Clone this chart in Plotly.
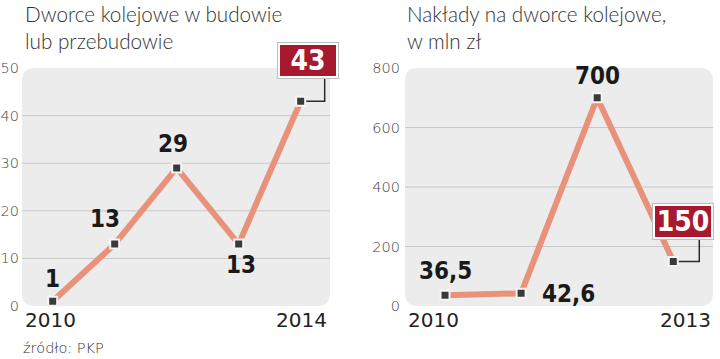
import plotly.graph_objects as go

# ---- data ----
years_left = [2010, 2011, 2012, 2013, 2014]
stations = [1, 13, 29, 13, 43]
station_labels = ["1", "13", "29", "13", "43"]

years_right = [2010, 2011, 2012, 2013]
spending = [36.5, 42.6, 700, 150]
spending_labels = ["36,5", "42,6", "700", "150"]

left_yticks = [0, 10, 20, 30, 40, 50]
right_yticks = [0, 200, 400, 600, 800]
left_xticks = [2010, 2014]
right_xticks = [2010, 2013]

title_left = "Dworce kolejowe w budowie<br>lub przebudowie"
title_right = "Nakłady na dworce kolejowe,<br>w mln zł"
source = "źródło: PKP"

# ---- style ----
W, H = 720, 359
LINE = "#E8927B"
RED = "#A6192E"
BG = "#ECECEC"
GRID = "#C9C9C9"
TXT = "#333333"
LABEL_FONT = dict(family="Liberation Sans Narrow, DejaVu Sans Condensed, Arial Narrow, sans-serif",
                  size=24, color="#1a1a1a", weight="bold")
THIN = "DejaVu Sans, sans-serif"
LATO = "Lato, Roboto, sans-serif"

def dom_y(top_px, bot_px):
    return [1 - bot_px / H, 1 - top_px / H]

fig = go.Figure()

marker = dict(symbol="square", size=9, color="#3a3a3a", line=dict(color="#f5f5f5", width=2))
fig.add_trace(go.Scatter(x=years_left, y=stations, mode="lines+markers",
                         line=dict(color=LINE, width=6), marker=marker,
                         xaxis="x", yaxis="y", hoverinfo="skip", showlegend=False,
                         cliponaxis=False))
fig.add_trace(go.Scatter(x=years_right, y=spending, mode="lines+markers",
                         line=dict(color=LINE, width=6), marker=marker,
                         xaxis="x2", yaxis="y2", hoverinfo="skip", showlegend=False,
                         cliponaxis=False))

axis_common = dict(showgrid=False, zeroline=False, showline=False, ticks="",
                   fixedrange=True, automargin=False,
                   tickfont=dict(family=THIN, size=14.5, color="#444", weight=200))

fig.update_layout(
    width=W, height=H, autosize=False, margin=dict(l=0, r=0, t=0, b=0, pad=0),
    paper_bgcolor="white", plot_bgcolor="rgba(0,0,0,0)",
    xaxis=dict(axis_common, domain=[22 / W, 330 / W], range=[2009.505, 2014.473],
               showticklabels=False, anchor="y"),
    yaxis=dict(axis_common, domain=dom_y(68, 306), range=[0, 50],
               tickvals=left_yticks, anchor="x", ticklabelstandoff=2),
    xaxis2=dict(axis_common, domain=[405 / W, 713 / W], range=[2009.474, 2013.522],
                showticklabels=False, anchor="y2"),
    yaxis2=dict(axis_common, domain=dom_y(68, 306), range=[0, 800],
                tickvals=right_yticks, anchor="x2", ticklabelstandoff=4),
)

def rounded_path(wpx, hpx, r):
    rx, ry = r / wpx, r / hpx
    return (f"M {rx},0 L {1-rx},0 Q 1,0 1,{ry} L 1,{1-ry} Q 1,1 {1-rx},1 "
            f"L {rx},1 Q 0,1 0,{1-ry} L 0,{ry} Q 0,0 {rx},0 Z")

shapes = []
for xr, yr, ticks in [("x", "y", left_yticks), ("x2", "y2", right_yticks)]:
    shapes.append(dict(type="path", xref=f"{xr} domain", yref=f"{yr} domain",
                       path=rounded_path(308, 238, 13), fillcolor=BG,
                       line=dict(width=0), layer="below"))
    for v in ticks[1:-1]:
        shapes.append(dict(type="line", xref=f"{xr} domain", yref=yr, x0=0, x1=1,
                           y0=v, y1=v, line=dict(color=GRID, width=1), layer="below"))

# connectors from highlighted point to red box (pixel offsets)
connectors = [("x", "y", years_left[-1], stations[-1], 24, 23),
              ("x2", "y2", years_right[-1], spending[-1], 26, 22)]
for xr, yr, xa, ya, dx, dy in connectors:
    shapes.append(dict(type="path", xref=xr, yref=yr, xsizemode="pixel", ysizemode="pixel",
                       xanchor=xa, yanchor=ya, path=f"M 0,0 L {dx},0 L {dx},{dy}",
                       line=dict(color="#2a2a2a", width=1.5), layer="below"))
fig.update_layout(shapes=shapes)

ann = []
# titles
for xpx, t in [(23, title_left), (405, title_right)]:
    ann.append(dict(xref="paper", yref="paper", x=xpx / W, y=1, xanchor="left",
                    yanchor="top", text=t, showarrow=False, align="left",
                    font=dict(family=LATO, size=20.7, color=TXT, weight=300)))
ann.append(dict(xref="paper", yref="paper", x=21 / W, y=1 - 348 / H, xanchor="left",
                yanchor="middle", text=source, showarrow=False,
                font=dict(family=THIN, size=14.5, color=TXT, weight=200)))

# x labels
for xr, yr, ticks, shifts in [("x", "y", left_xticks, [-2, 1]), ("x2", "y2", right_xticks, [-12, 12])]:
    for v, s in zip(ticks, shifts):
        ann.append(dict(xref=xr, yref=yr, x=v, y=0, xanchor="center", yanchor="middle",
                        xshift=s, yshift=-14, text=str(v), showarrow=False,
                        font=dict(family="DejaVu Sans, sans-serif", size=20, color="#222")))

# value labels
left_offsets = [(0, 22), (-10, 25), (-4, 24), (2, -21), None]
right_offsets = [(0, 24), (47, -1), (0, 22), None]
for xr, yr, xs, ys, labs, offs in [("x", "y", years_left, stations, station_labels, left_offsets),
                                    ("x2", "y2", years_right, spending, spending_labels, right_offsets)]:
    for x, y, lab, off in zip(xs, ys, labs, offs):
        if off is None:
            continue
        ann.append(dict(xref=xr, yref=yr, x=x, y=y, xshift=off[0], yshift=off[1],
                        text=lab, showarrow=False, xanchor="center", yanchor="middle",
                        font=LABEL_FONT))

# highlighted red boxes
boxes = [("x", "y", years_left[-1], stations[-1], station_labels[-1], 7, 41),
         ("x2", "y2", years_right[-1], spending[-1], spending_labels[-1], 10, 40)]
for xr, yr, x, y, lab, dx, dy in boxes:
    ann.append(dict(xref=xr, yref=yr, x=x, y=y, xshift=dx, yshift=dy, text="",
                    showarrow=False, width=62, height=37, bgcolor="#bdbdbd",
                    borderwidth=0, borderpad=0, xanchor="center", yanchor="middle"))
    ann.append(dict(xref=xr, yref=yr, x=x, y=y, xshift=dx, yshift=dy, text=lab,
                    showarrow=False, width=56, height=31, bgcolor=RED, bordercolor="white",
                    borderwidth=2, borderpad=0, xanchor="center", yanchor="middle",
                    font=dict(LABEL_FONT, color="white", size=28)))
fig.update_layout(annotations=ann)

fig.write_html("out.html", config={"responsive": False, "displayModeBar": False},
               post_script="document.body.style.margin='0';document.body.style.overflow='hidden';")
